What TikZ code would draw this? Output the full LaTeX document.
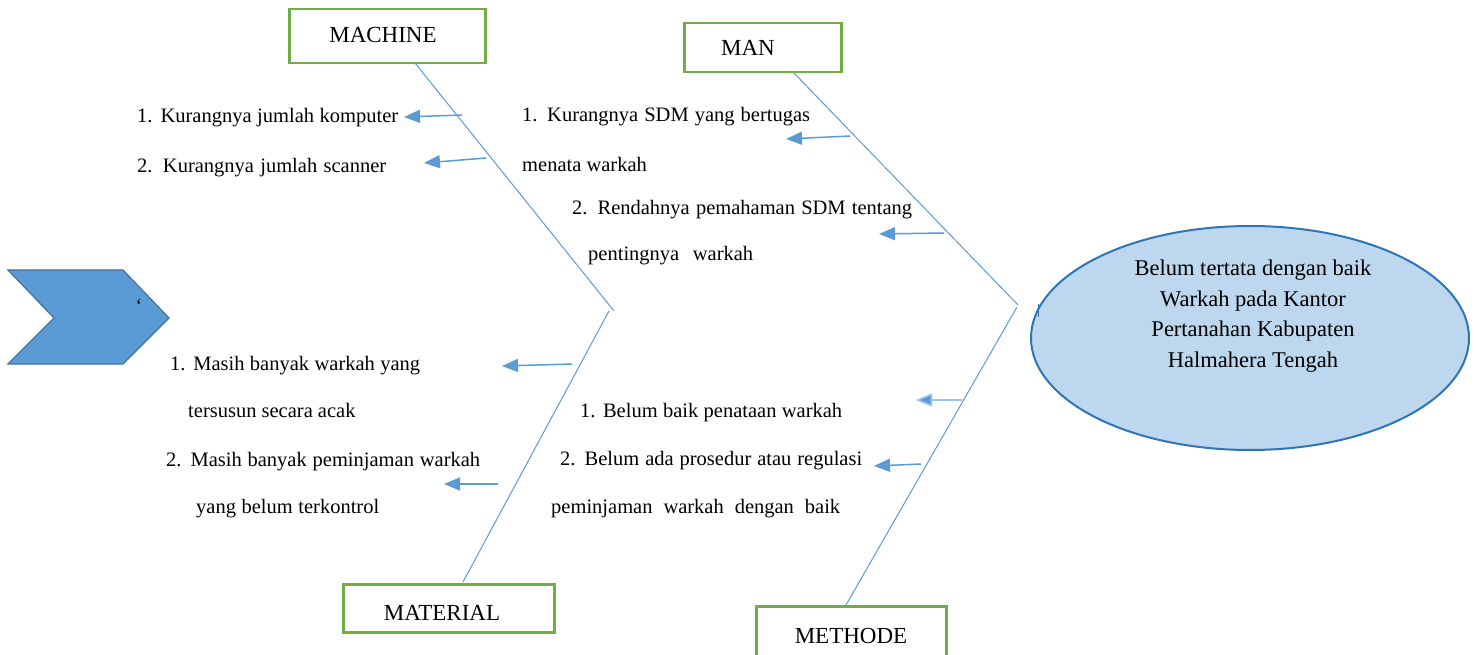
\documentclass[tikz,border=0pt]{standalone}
\usepackage{fontspec}
\setmainfont{Liberation Serif}
\usetikzlibrary{arrows.meta,shapes.geometric}
\definecolor{bone}{HTML}{5B9BD5}
\definecolor{boxgreen}{HTML}{70AD47}
\definecolor{chevfill}{HTML}{5B9BD5}
\definecolor{chevline}{HTML}{41719C}
\definecolor{ellfill}{HTML}{BDD7EE}
\definecolor{ellline}{HTML}{2E75B6}
\tikzset{
  catbox/.style={draw=boxgreen,line width=2.5pt,fill=white,inner sep=0pt},
  cattext/.style={font=\fontsize{23}{26}\selectfont,inner sep=0pt,anchor=base},
  txt/.style={font=\fontsize{20.5}{24}\selectfont,inner sep=0pt,anchor=base west},
  boneline/.style={draw=bone,line width=1pt},
  causearrow/.style={draw=bone,line width=1.5pt,-{Triangle[length=16pt,width=13pt]}},
  lightarrow/.style={draw=bone!60,line width=1.5pt,-{Triangle[length=16pt,width=13pt,fill=bone]}},
}
\begin{document}
\begin{tikzpicture}[x=1pt,y=-1pt]
\useasboundingbox (0,0) rectangle (1476,655);
% chevron
\fill[chevfill,draw=chevline,line width=1.2pt] (8,270) coordinate (cv1) -- (123,270) -- (169,318) coordinate (cvtip) -- (123,364) -- (8,364) -- (54,318) coordinate (cvnotch) -- cycle;
\node[font=\fontsize{20}{20}\selectfont,inner sep=0pt] (tick) at (139,306) {\symbol{96}};
% bones
\coordinate (mchTop) at (415,63);
\coordinate (mchEnd) at (614,311);
\coordinate (matTop) at (609,311);
\coordinate (matEnd) at (463,582);
\coordinate (manTop) at (792,71);
\coordinate (manEnd) at (1018,305);
\coordinate (metTop) at (1017,307);
\coordinate (metEnd) at (846,605);
\draw[boneline] (mchTop) -- (mchEnd);
\draw[boneline] (matTop) -- (matEnd);
\draw[boneline] (manTop) -- (manEnd);
\draw[boneline] (metTop) -- (metEnd);
% boxes
\node[catbox,minimum width=196pt,minimum height=54pt,anchor=north west] (machine) at (288,8) {};
\node[cattext] (machineT) at (383,43) {MACHINE};
\node[catbox,minimum width=157pt,minimum height=49pt,anchor=north west] (man) at (683,22) {};
\node[cattext] (manT) at (748,56) {MAN};
\node[catbox,minimum width=211pt,minimum height=48pt,anchor=north west] (material) at (342,583) {};
\node[cattext] (materialT) at (442,620) {MATERIAL};
\node[catbox,minimum width=190pt,minimum height=52pt,anchor=north west] (methode) at (755,605) {};
\node[cattext] (methodeT) at (851,643) {METHODE};
% ellipse
\node[ellipse,draw=ellline,fill=ellfill,line width=2pt,minimum width=438pt,minimum height=224pt] (effect) at (1250,338) {};
\node[font=\fontsize{22.5}{30.5}\selectfont,align=center,inner sep=0pt] (effectT) at (1253,316) {Belum tertata dengan baik\\Warkah pada Kantor\\Pertanahan Kabupaten\\Halmahera Tengah};
\draw[draw=ellline,line width=1pt] (1038,304) coordinate (mk1) -- (1038,317) coordinate (mk2);
% arrows machine
\coordinate (a1s) at (462,115); \coordinate (a1e) at (404,117);
\coordinate (a2s) at (486,158); \coordinate (a2e) at (424,163);
\draw[causearrow] (a1s) -- (a1e);
\draw[causearrow] (a2s) -- (a2e);
\node[txt] (t1) at (137,123) {\makebox[261pt][s]{1. Kurangnya jumlah komputer}};
\node[txt] (t2) at (137,173) {\makebox[249pt][s]{2. Kurangnya jumlah scanner}};
% arrows man
\coordinate (b1s) at (850,136); \coordinate (b1e) at (786,139);
\coordinate (b2s) at (944,233); \coordinate (b2e) at (879,234);
\draw[causearrow] (b1s) -- (b1e);
\draw[causearrow] (b2s) -- (b2e);
\node[txt] (t3) at (522,122) {\makebox[288pt][s]{1. Kurangnya SDM yang bertugas}};
\node[txt] (t4) at (522,172) {menata warkah};
\node[txt] (t5) at (572,215) {\makebox[340pt][s]{2. Rendahnya pemahaman SDM tentang}};
\node[txt] (t6) at (588,261) {\makebox[165pt][s]{pentingnya warkah}};
% arrows material
\coordinate (c1s) at (572,364); \coordinate (c1e) at (502,366);
\coordinate (c2s) at (498,484); \coordinate (c2e) at (444,484);
\draw[causearrow] (c1s) -- (c1e);
\draw[causearrow] (c2s) -- (c2e);
\node[txt] (t7) at (170,370) {\makebox[250pt][s]{1. Masih banyak warkah yang}};
\node[txt] (t8) at (188,417) {tersusun secara acak};
\node[txt] (t9) at (166,466) {\makebox[314pt][s]{2. Masih banyak peminjaman warkah}};
\node[txt] (t10) at (196,513) {\makebox[183pt][s]{yang belum terkontrol}};
% arrows methode
\coordinate (d1s) at (962,400); \coordinate (d1e) at (916,400);
\coordinate (d2s) at (921,464); \coordinate (d2e) at (874,466);
\draw[lightarrow] (d1s) -- (d1e);
\draw[causearrow] (d2s) -- (d2e);
\node[txt] (t11) at (580,417) {\makebox[262pt][s]{1. Belum baik penataan warkah}};
\node[txt] (t12) at (560,465) {\makebox[302pt][s]{2. Belum ada prosedur atau regulasi}};
\node[txt] (t13) at (551,513) {\makebox[289pt][s]{peminjaman warkah dengan baik}};
\end{tikzpicture}
\end{document}
